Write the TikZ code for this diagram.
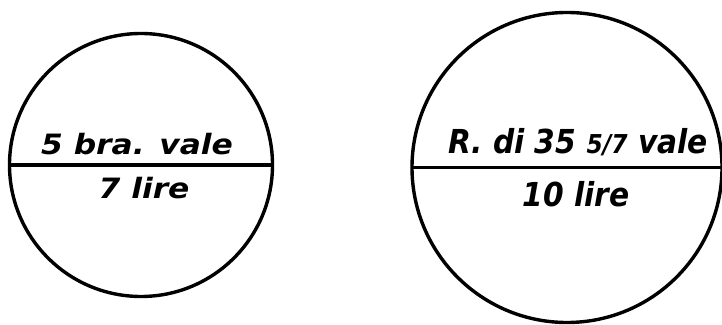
\documentclass[tikz,border=0pt]{standalone}
\usepackage{fontspec}
\newfontfamily\handwide{DejaVu Sans}[FakeStretch=1.12]
\newfontfamily\handnarrow{DejaVu Sans}[FakeStretch=0.9]
\usetikzlibrary{positioning}

\begin{document}
\begin{tikzpicture}[x=0.5pt, y=-0.5pt,
  coin/.style={draw, circle, line width=1.7pt, inner sep=0pt, outer sep=0pt},
  split/.style={line width=1.8pt},
  leftlbl/.style={anchor=base, inner sep=0pt, font=\handwide\bfseries\itshape\fontsize{14}{14}\selectfont},
  rightlbl/.style={anchor=base, inner sep=0pt, font=\handnarrow\bfseries\itshape\fontsize{16.5}{16.5}\selectfont}
]
\useasboundingbox (0,0) rectangle (722,325);
\node[coin, minimum size=131.5pt] (small) at (141,165) {};
\node[coin, minimum size=155pt] (big) at (567,167.5) {};
\draw[split] (small.west) -- (small.east);
\draw[split] (big.west) -- (big.east);

\node[leftlbl] (smalltop) at (137,155) {5 bra. vale};
\node[leftlbl] (smallbot) at (144,199) {7 lire};
\node[rightlbl] (bigtop) at (578,154) {R. di 35 {\fontsize{13}{13}\selectfont 5/7} vale};
\node[rightlbl] (bigbot) at (576,207) {10 lire};
\end{tikzpicture}
\end{document}
